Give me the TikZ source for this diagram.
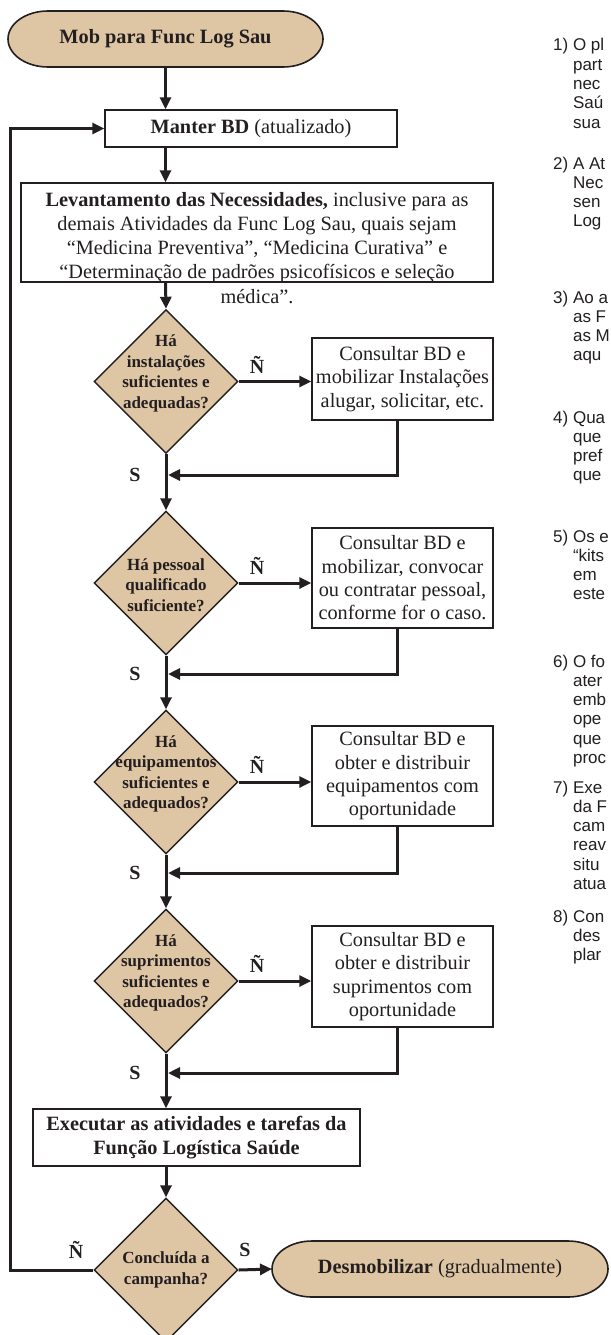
\documentclass[tikz,border=0pt]{standalone}
\usepackage{fontspec}
\setmainfont{Liberation Serif}
\newfontfamily\notefont{Liberation Sans}
\usetikzlibrary{shapes.geometric,arrows.meta}
\definecolor{ink}{HTML}{231F20}
\definecolor{sandfill}{RGB}{222,197,164}
\newcommand{\notegap}{\kern0.278em}
\begin{document}
\begin{tikzpicture}[x=1pt,y=-1pt,line join=miter,
  flow/.style={draw=ink, line width=3pt, -{Triangle[length=12pt,width=11pt]}},
  boxtxt/.style={font=\fontsize{20.3}{23.3}\selectfont, text=ink, align=center, inner sep=0pt},
  box/.style={boxtxt, draw=ink, line width=1.4pt, fill=white},
  frame/.style={inner sep=0pt, outer sep=0pt},
  termline/.style={draw=ink, fill=sandfill, line width=1.6pt},
  dia/.style={diamond, draw=ink, fill=sandfill, line width=1.4pt,
    minimum width=144pt, minimum height=144pt, inner sep=0pt},
  diatxt/.style={font=\fontsize{17}{20.5}\selectfont\bfseries, text=ink, align=center, inner sep=0pt},
  lbl/.style={font=\fontsize{20}{24}\selectfont\bfseries, text=ink, inner sep=0pt},
  note/.style={font=\fontsize{17}{19.3}\selectfont\notefont, text=ink, inner sep=0pt, anchor=base west},
]
\clip (0,0) rectangle (610,1335);
\fill[white] (0,0) rectangle (610,1335);

% ---- start terminal ----
\node[frame, minimum width=315pt, minimum height=56pt] (mob) at (165.5,39) {};
\draw[termline] ([xshift=40pt]mob.north west) -- ([xshift=-40pt]mob.north east)
  arc[start angle=-90, end angle=90, x radius=40, y radius=28]
  -- ([xshift=40pt]mob.south west)
  arc[start angle=90, end angle=270, x radius=40, y radius=28] -- cycle;
\node[boxtxt, font=\fontsize{20.3}{23.3}\selectfont\bfseries] at (mob) {Mob para Func Log Sau};

% ---- process boxes ----
\node[box, minimum width=292pt, minimum height=37pt] (manter) at (251,128.5)
  {\textbf{Manter BD} (atualizado)};
\node[box, minimum width=472pt, minimum height=99pt] (lev) at (257,232.5) {};
\node[boxtxt, font=\fontsize{20.3}{24.2}\selectfont, anchor=north] (levtxt) at (257,192)
  {\textbf{Levantamento das Necessidades,} inclusive para as\\
   demais Atividades da Func Log Sau, quais sejam\\
   “Medicina Preventiva”, “Medicina Curativa” e\\
   “Determinação de padrões psicofísicos e seleção\\
   médica”.};

\node[box, minimum width=181pt, minimum height=82pt] (c1) at (402.5,379)
  {Consultar BD e\\mobilizar Instalações\\alugar, solicitar, etc.};
\node[box, minimum width=181pt, minimum height=100pt] (c2) at (402.5,578)
  {Consultar BD e\\mobilizar, convocar\\ou contratar pessoal,\\conforme for o caso.};
\node[box, minimum width=181pt, minimum height=100pt] (c3) at (402.5,776)
  {Consultar BD e\\obter e distribuir\\equipamentos com\\oportunidade};
\node[box, minimum width=181pt, minimum height=101pt] (c4) at (402.5,976.5)
  {Consultar BD e\\obter e distribuir\\suprimentos com\\oportunidade};

\node[box, minimum width=327pt, minimum height=57pt, font=\fontsize{20.3}{23.3}\selectfont\bfseries] (exe) at (196.5,1137.5)
  {Executar as atividades e tarefas da\\Função Logística Saúde};

% ---- decisions ----
\node[dia] (d1) at (166,381.5) {};
\node[diatxt] at ([yshift=8pt]d1.center) {Há\\instalações\\suficientes e\\adequadas?};
\node[dia] (d2) at (166,583) {};
\node[diatxt] at ([yshift=-2pt]d2.center) {Há pessoal\\qualificado\\suficiente?};
\node[dia] (d3) at (166,782) {};
\node[diatxt] at ([yshift=8pt]d3.center) {Há\\equipamentos\\suficientes e\\adequados?};
\node[dia] (d4) at (166,981) {};
\node[diatxt] at ([yshift=8pt]d4.center) {Há\\suprimentos\\suficientes e\\adequados?};
\node[dia] (d5) at (166,1270) {};
\node[diatxt] at (d5.center) {Concluída a\\campanha?};

% ---- end terminal ----
\node[frame, minimum width=336pt, minimum height=56pt] (desm) at (440,1269) {};
\draw[termline] ([xshift=40pt]desm.north west) -- ([xshift=-40pt]desm.north east)
  arc[start angle=-90, end angle=90, x radius=40, y radius=28]
  -- ([xshift=40pt]desm.south west)
  arc[start angle=90, end angle=270, x radius=40, y radius=28] -- cycle;
\node[boxtxt] at (desm) {\textbf{Desmobilizar} (gradualmente)};

% ---- return points on the main line ----
\coordinate (r1) at (168,475);
\coordinate (r2) at (168,674);
\coordinate (r3) at (168,873);
\coordinate (r4) at (168,1073);
\coordinate (loop) at (10,1270);

% ---- connectors ----
\draw[flow] (mob.south) -- (mob.south |- manter.north);
\draw[flow] (mob.south |- manter.south) -- (mob.south |- lev.north);
\draw[flow] (mob.south |- lev.south) -- (d1.north);

\draw[flow] (d1.east) -- (d1.east -| c1.west);
\draw[flow] ([xshift=-5.5pt]c1.south) |- (r1);
\draw[flow] (d1.south) -- (d2.north);

\draw[flow] (d2.east) -- (d2.east -| c2.west);
\draw[flow] ([xshift=-5.5pt]c2.south) |- (r2);
\draw[flow] (d2.south) -- (d3.north);

\draw[flow] (d3.east) -- (d3.east -| c3.west);
\draw[flow] ([xshift=-5.5pt]c3.south) |- (r3);
\draw[flow] (d3.south) -- (d4.north);

\draw[flow] (d4.east) -- (d4.east -| c4.west);
\draw[flow] ([xshift=-5.5pt]c4.south) |- (r4);
\draw[flow] (d4.south) -- (d4.south |- exe.north);

\draw[flow] (d5.north |- exe.south) -- (d5.north);
\draw[flow] (d5.east) -- (desm.west);
\draw[flow] (d5.west) -- (loop) |- (manter.west);

% ---- branch labels ----
\node[lbl] at (257,365) {Ñ};
\node[lbl] at (257,566) {Ñ};
\node[lbl] at (257,765) {Ñ};
\node[lbl] at (257,964) {Ñ};
\node[lbl] at (135,475) {S};
\node[lbl] at (135,674) {S};
\node[lbl] at (135,873) {S};
\node[lbl] at (135,1073) {S};
\node[lbl] at (76,1250) {Ñ};
\node[lbl] at (245,1250) {S};

% ---- side notes ----
\node[note] (n1) at (553,51) {\begin{tabular}[t]{@{}l@{}l@{}}1)\notegap & O pl\\ & part\\ & nec\\ & Saú\\ & sua\end{tabular}};
\node[note] (n2) at (553,169) {\begin{tabular}[t]{@{}l@{}l@{}}2)\notegap & A At\\ & Nec\\ & sen\\ & Log\end{tabular}};
\node[note] (n3) at (553,303) {\begin{tabular}[t]{@{}l@{}l@{}}3)\notegap & Ao a\\ & as F\\ & as M\\ & aqu\end{tabular}};
\node[note] (n4) at (553,423) {\begin{tabular}[t]{@{}l@{}l@{}}4)\notegap & Qua\\ & que\\ & pref\\ & que\end{tabular}};
\node[note] (n5) at (553,542) {\begin{tabular}[t]{@{}l@{}l@{}}5)\notegap & Os e\\ & “kits\\ & em\\ & este\end{tabular}};
\node[note] (n6) at (553,667) {\begin{tabular}[t]{@{}l@{}l@{}}6)\notegap & O fo\\ & ater\\ & emb\\ & ope\\ & que\\ & proc\end{tabular}};
\node[note] (n7) at (553,793) {\begin{tabular}[t]{@{}l@{}l@{}}7)\notegap & Exe\\ & da F\\ & cam\\ & reav\\ & situ\\ & atua\end{tabular}};
\node[note] (n8) at (553,922) {\begin{tabular}[t]{@{}l@{}l@{}}8)\notegap & Con\\ & des\\ & plar\end{tabular}};
\end{tikzpicture}
\end{document}
